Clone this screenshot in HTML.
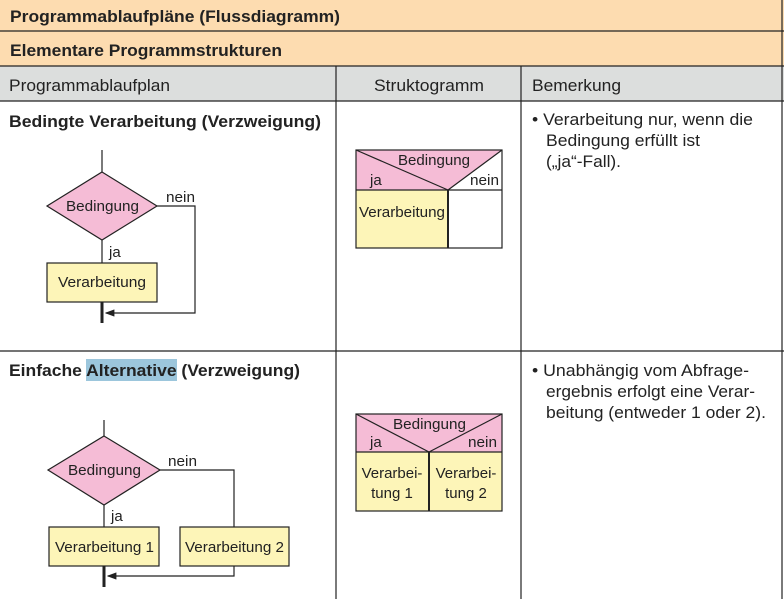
<!DOCTYPE html>
<html><head><meta charset="utf-8"><style>
html,body{margin:0;padding:0;background:#fff;}
svg{display:block;font-family:"Liberation Sans",Arial,sans-serif;}
</style></head><body>
<svg width="784" height="599" viewBox="0 0 784 599" xmlns="http://www.w3.org/2000/svg">
<defs><marker id="ar" markerWidth="8" markerHeight="6" refX="7" refY="3" orient="auto"><path d="M0,0 L8,3 L0,6 z" fill="#222"/></marker></defs>
<rect x="0" y="0" width="784" height="66" fill="#fddcb0"/>
<rect x="0" y="66" width="784" height="35" fill="#dcdedd"/>
<g stroke="#222" stroke-width="1.2">
<line x1="0" y1="31" x2="784" y2="31"/>
<line x1="0" y1="66" x2="784" y2="66"/>
<line x1="0" y1="101" x2="784" y2="101"/>
<line x1="0" y1="351" x2="784" y2="351"/>
<line x1="336" y1="66" x2="336" y2="599"/>
<line x1="521" y1="66" x2="521" y2="599"/>
<line x1="782" y1="0" x2="782" y2="599"/>
</g>
<g font-size="17" fill="#222" lengthAdjust="spacingAndGlyphs">
<text x="10" y="22" font-weight="bold" textLength="330" lengthAdjust="spacingAndGlyphs">Programmablaufpläne (Flussdiagramm)</text>
<text x="10" y="56" font-weight="bold" textLength="272" lengthAdjust="spacingAndGlyphs">Elementare Programmstrukturen</text>
<text x="9" y="91" textLength="161" lengthAdjust="spacingAndGlyphs">Programmablaufplan</text>
<text x="374" y="91" textLength="110" lengthAdjust="spacingAndGlyphs">Struktogramm</text>
<text x="532" y="91" textLength="89" lengthAdjust="spacingAndGlyphs">Bemerkung</text>
<text x="9" y="127" font-weight="bold" textLength="312" lengthAdjust="spacingAndGlyphs">Bedingte Verarbeitung (Verzweigung)</text>
<rect x="86" y="359" width="91" height="22" fill="#9cc6dc"/>
<text x="9" y="376" font-weight="bold" textLength="291" lengthAdjust="spacingAndGlyphs">Einfache Alternative (Verzweigung)</text>
</g>
<g font-size="17" fill="#222">
<text x="532" y="125" textLength="221" lengthAdjust="spacingAndGlyphs">• Verarbeitung nur, wenn die</text>
<text x="546" y="146" textLength="154" lengthAdjust="spacingAndGlyphs">Bedingung erfüllt ist</text>
<text x="546" y="167" textLength="75" lengthAdjust="spacingAndGlyphs">(„ja“-Fall).</text>
<text x="532" y="376" textLength="217" lengthAdjust="spacingAndGlyphs">• Unabhängig vom Abfrage-</text>
<text x="546" y="397" textLength="209" lengthAdjust="spacingAndGlyphs">ergebnis erfolgt eine Verar-</text>
<text x="546" y="418" textLength="220" lengthAdjust="spacingAndGlyphs">beitung (entweder 1 oder 2).</text>
</g>
<!-- Diagram 1 -->
<g stroke="#222" stroke-width="1.2" fill="none">
<line x1="102" y1="150" x2="102" y2="172"/>
<line x1="102" y1="240" x2="102" y2="263"/>
<polyline points="157,206 195,206 195,313 106,313" marker-end="url(#ar)"/>
<line x1="102" y1="302" x2="102" y2="323" stroke-width="3"/>
</g>
<polygon points="102,172 157,206 102,240 47,206" fill="#f5bcd6" stroke="#222" stroke-width="1.2"/>
<rect x="47" y="263" width="110" height="39" fill="#fdf5b8" stroke="#222" stroke-width="1.2"/>
<g font-size="15" fill="#222">
<text x="66" y="211" textLength="73" lengthAdjust="spacingAndGlyphs">Bedingung</text>
<text x="58" y="287" textLength="88" lengthAdjust="spacingAndGlyphs">Verarbeitung</text>
<text x="166" y="202" textLength="29" lengthAdjust="spacingAndGlyphs">nein</text>
<text x="109" y="257">ja</text>
</g>
<!-- Struktogramm 1 -->
<polygon points="356,150 502,150 448,190 356,190" fill="#f5bcd6"/>
<polygon points="502,150 502,190 448,190" fill="#fff"/>
<rect x="356" y="190" width="92" height="58" fill="#fdf5b8"/>
<g stroke="#222" stroke-width="1.2" fill="none">
<rect x="356" y="150" width="146" height="98"/>
<line x1="356" y1="190" x2="502" y2="190"/>
<line x1="356" y1="150" x2="448" y2="190"/>
<line x1="448" y1="190" x2="502" y2="150"/>
<line x1="448" y1="190" x2="448" y2="248" stroke-width="2"/>
</g>
<g font-size="15" fill="#222">
<text x="398" y="165" textLength="72" lengthAdjust="spacingAndGlyphs">Bedingung</text>
<text x="370" y="185">ja</text>
<text x="470" y="185" textLength="29" lengthAdjust="spacingAndGlyphs">nein</text>
<text x="359" y="217" textLength="86" lengthAdjust="spacingAndGlyphs">Verarbeitung</text>
</g>
<!-- Diagram 2 -->
<g stroke="#222" stroke-width="1.2" fill="none">
<line x1="104" y1="420" x2="104" y2="436"/>
<line x1="104" y1="505" x2="104" y2="527"/>
<polyline points="160,470 234,470 234,527"/>
<polyline points="234,566 234,576 108,576" marker-end="url(#ar)"/>
<line x1="104" y1="566" x2="104" y2="587" stroke-width="3"/>
</g>
<polygon points="104,436 160,470 104,505 48,470" fill="#f5bcd6" stroke="#222" stroke-width="1.2"/>
<rect x="49" y="527" width="110" height="39" fill="#fdf5b8" stroke="#222" stroke-width="1.2"/>
<rect x="180" y="527" width="109" height="39" fill="#fdf5b8" stroke="#222" stroke-width="1.2"/>
<g font-size="15" fill="#222">
<text x="68" y="475" textLength="73" lengthAdjust="spacingAndGlyphs">Bedingung</text>
<text x="55" y="552" textLength="99" lengthAdjust="spacingAndGlyphs">Verarbeitung 1</text>
<text x="185" y="552" textLength="99" lengthAdjust="spacingAndGlyphs">Verarbeitung 2</text>
<text x="168" y="466" textLength="29" lengthAdjust="spacingAndGlyphs">nein</text>
<text x="111" y="521">ja</text>
</g>
<!-- Struktogramm 2 -->
<polygon points="356,414 502,414 502,452 356,452" fill="#f5bcd6"/>
<rect x="356" y="452" width="146" height="59" fill="#fdf5b8"/>
<g stroke="#222" stroke-width="1.2" fill="none">
<rect x="356" y="414" width="146" height="97"/>
<line x1="356" y1="452" x2="502" y2="452"/>
<line x1="356" y1="414" x2="429" y2="452"/>
<line x1="429" y1="452" x2="502" y2="414"/>
<line x1="429" y1="452" x2="429" y2="511" stroke-width="2"/>
</g>
<g font-size="15" fill="#222">
<text x="393" y="429" textLength="73" lengthAdjust="spacingAndGlyphs">Bedingung</text>
<text x="370" y="447">ja</text>
<text x="468" y="447" textLength="29" lengthAdjust="spacingAndGlyphs">nein</text>
<text x="392" y="478" text-anchor="middle">Verarbei-</text>
<text x="392" y="498" text-anchor="middle">tung 1</text>
<text x="466" y="478" text-anchor="middle">Verarbei-</text>
<text x="466" y="498" text-anchor="middle">tung 2</text>
</g>
</svg>
</body></html>
